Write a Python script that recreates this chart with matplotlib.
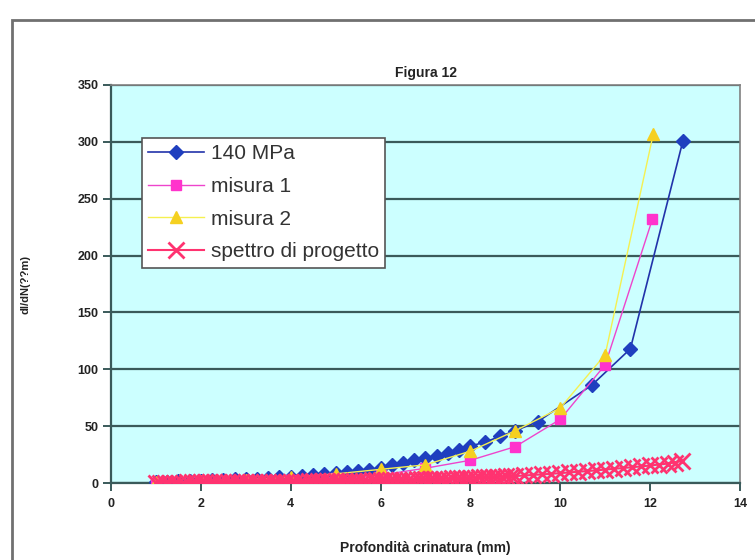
import numpy as np
import matplotlib
matplotlib.use('Agg')
import matplotlib.pyplot as plt
from matplotlib.patches import Rectangle

plt.rcParams['font.family'] = ['Liberation Sans', 'DejaVu Sans']

# 140 MPa (blue diamonds)
x_140 = [1.0, 1.25, 1.5, 1.75, 2.0, 2.25, 2.5, 2.75, 3.0, 3.25, 3.5, 3.75,
         4.0, 4.25, 4.5, 4.75, 5.0, 5.25, 5.5, 5.75, 6.0, 6.25, 6.5, 6.75,
         7.0, 7.25, 7.5, 7.75, 8.0, 8.33, 8.66, 9.0, 9.5, 10.7, 11.56, 12.73]
y_140 = [0.8, 1.1, 1.4, 1.7, 2.0, 2.3, 2.7, 3.1, 3.5, 3.9, 4.4, 4.9,
         5.5, 6.1, 6.8, 7.6, 8.5, 9.5, 10.6, 11.8, 13.3, 15.5, 18.0, 20.0,
         22.0, 24.0, 26.5, 29.0, 32.5, 36.0, 41.0, 46.0, 54.0, 86.0, 118.0, 301.0]

# misura 1 (magenta squares)
x_m1 = [1, 2, 3, 4, 5, 6, 7, 8, 9, 10, 11, 12.05]
y_m1 = [0.3, 0.8, 1.5, 2.5, 4.0, 7.0, 13.0, 20.0, 32.0, 56.0, 104.0, 232.0]

# misura 2 (yellow triangles)
x_m2 = [1, 2, 3, 4, 5, 6, 7, 8, 9, 10, 11, 12.07]
y_m2 = [0.5, 1.5, 3.0, 5.0, 8.0, 12.0, 16.0, 28.0, 46.0, 66.0, 113.0, 307.0]

# spettro di progetto (crosses)
x_sp = [1.0, 1.1, 1.2, 1.3, 1.4, 1.5, 1.6, 1.7, 1.8, 1.9,
        2.0, 2.1, 2.2, 2.3, 2.4, 2.5, 2.6, 2.7, 2.8, 2.9,
        3.0, 3.1, 3.2, 3.3, 3.4, 3.5, 3.6, 3.7, 3.8, 3.9,
        4.0, 4.1, 4.2, 4.3, 4.4, 4.5, 4.6, 4.7, 4.8, 4.9,
        5.0, 5.1, 5.2, 5.3, 5.4, 5.5, 5.6, 5.7, 5.8, 5.9,
        6.0, 6.1, 6.2, 6.3, 6.4, 6.5, 6.6, 6.7, 6.8, 6.9,
        7.0, 7.1, 7.2, 7.3, 7.4, 7.5, 7.6, 7.7, 7.8, 7.9,
        8.0, 8.1, 8.2, 8.3, 8.4, 8.5, 8.6, 8.7, 8.8, 8.9,
        9.0, 9.2, 9.4, 9.6, 9.8, 10.0, 10.2, 10.4, 10.6, 10.8,
        11.0, 11.2, 11.4, 11.6, 11.8, 12.0, 12.2, 12.4, 12.55, 12.7]
y_sp = [0.30, 0.32, 0.34, 0.36, 0.38, 0.40, 0.42, 0.44, 0.46, 0.48,
        0.50, 0.52, 0.54, 0.56, 0.58, 0.60, 0.63, 0.66, 0.69, 0.72,
        0.75, 0.78, 0.81, 0.85, 0.89, 0.93, 0.97, 1.01, 1.05, 1.10,
        1.15, 1.20, 1.25, 1.30, 1.35, 1.40, 1.45, 1.50, 1.56, 1.62,
        1.68, 1.74, 1.80, 1.87, 1.94, 2.01, 2.08, 2.15, 2.23, 2.31,
        2.40, 2.48, 2.57, 2.66, 2.75, 2.85, 2.95, 3.05, 3.15, 3.25,
        3.36, 3.47, 3.58, 3.70, 3.82, 3.94, 4.07, 4.20, 4.33, 4.47,
        4.60, 4.75, 4.90, 5.05, 5.20, 5.35, 5.50, 5.65, 5.80, 5.95,
        6.1, 6.6, 7.1, 7.6, 8.1, 8.7, 9.3, 9.9, 10.5, 11.1,
        11.8, 12.5, 13.2, 13.9, 14.6, 15.4, 16.2, 17.1, 18.0, 19.5]

fig = plt.figure(figsize=(7.55, 5.6), dpi=100)
fig.patches.append(Rectangle((12 / 755, -0.2), 1.2, (540 / 560) + 0.2,
                             transform=fig.transFigure, fill=False,
                             edgecolor='#707070', linewidth=2.0))

ax = fig.add_axes([111 / 755, 77 / 560, 629 / 755, 398 / 560])
ax.set_facecolor('#CCFFFF')

ax.plot(x_140, y_140, color='#2233AA', lw=1.2, marker='D', ms=7,
        mfc='#1F3FBF', mec='#1F3FBF', label='140 MPa', zorder=3)
ax.plot(x_m1, y_m1, color='#EE44CC', lw=1.0, marker='s', ms=7.5,
        mfc='#FF33CC', mec='#FF33CC', label='misura 1', zorder=4)
ax.plot(x_m2, y_m2, color='#F5F050', lw=1.0, marker='^', ms=9,
        mfc='#F5D020', mec='#F5D020', label='misura 2', zorder=5)
ax.plot(x_sp, y_sp, color='#FF3370', lw=1.5, marker='x', ms=11, mew=2.0,
        mec='#FF3370', label='spettro di progetto', zorder=6)

ax.set_xlim(0, 14)
ax.set_ylim(0, 350)
ax.set_xticks(range(0, 15, 2))
ax.set_yticks(range(0, 351, 50))
ax.yaxis.grid(True, color='#3A5A5A', lw=1.6)
ax.set_axisbelow(True)

for s in ['left', 'bottom']:
    ax.spines[s].set_color('#3A5A5A')
    ax.spines[s].set_linewidth(1.6)
for s in ['top', 'right']:
    ax.spines[s].set_color('#808080')
    ax.spines[s].set_linewidth(1.2)

ax.tick_params(direction='out', length=6, width=1.4, color='#3A5A5A',
               labelsize=9, labelcolor='#222222')
ax.tick_params(axis='y', pad=3)
ax.tick_params(axis='x', pad=5)
for lab in ax.get_xticklabels() + ax.get_yticklabels():
    lab.set_fontweight('bold')

ax.set_title('Figura 12', fontsize=10, fontweight='bold', color='#222222', pad=6)
ax.set_xlabel('Profondità crinatura (mm)', fontsize=10, fontweight='bold',
              color='#222222', labelpad=22)
ax.set_ylabel('dl/dN(??m)', fontsize=8, fontweight='bold', color='#222222',
              labelpad=34)

leg = ax.legend(loc='upper left', bbox_to_anchor=(0.049, 0.867), fontsize=15,
                frameon=True, fancybox=False, framealpha=1, edgecolor='#555555',
                labelspacing=0.66, handlelength=2.7, borderpad=0.3,
                handletextpad=0.3, borderaxespad=0)
leg.get_frame().set_linewidth(1.2)
for t in leg.get_texts():
    t.set_color('#333333')

fig.savefig('out.png', dpi=100)
